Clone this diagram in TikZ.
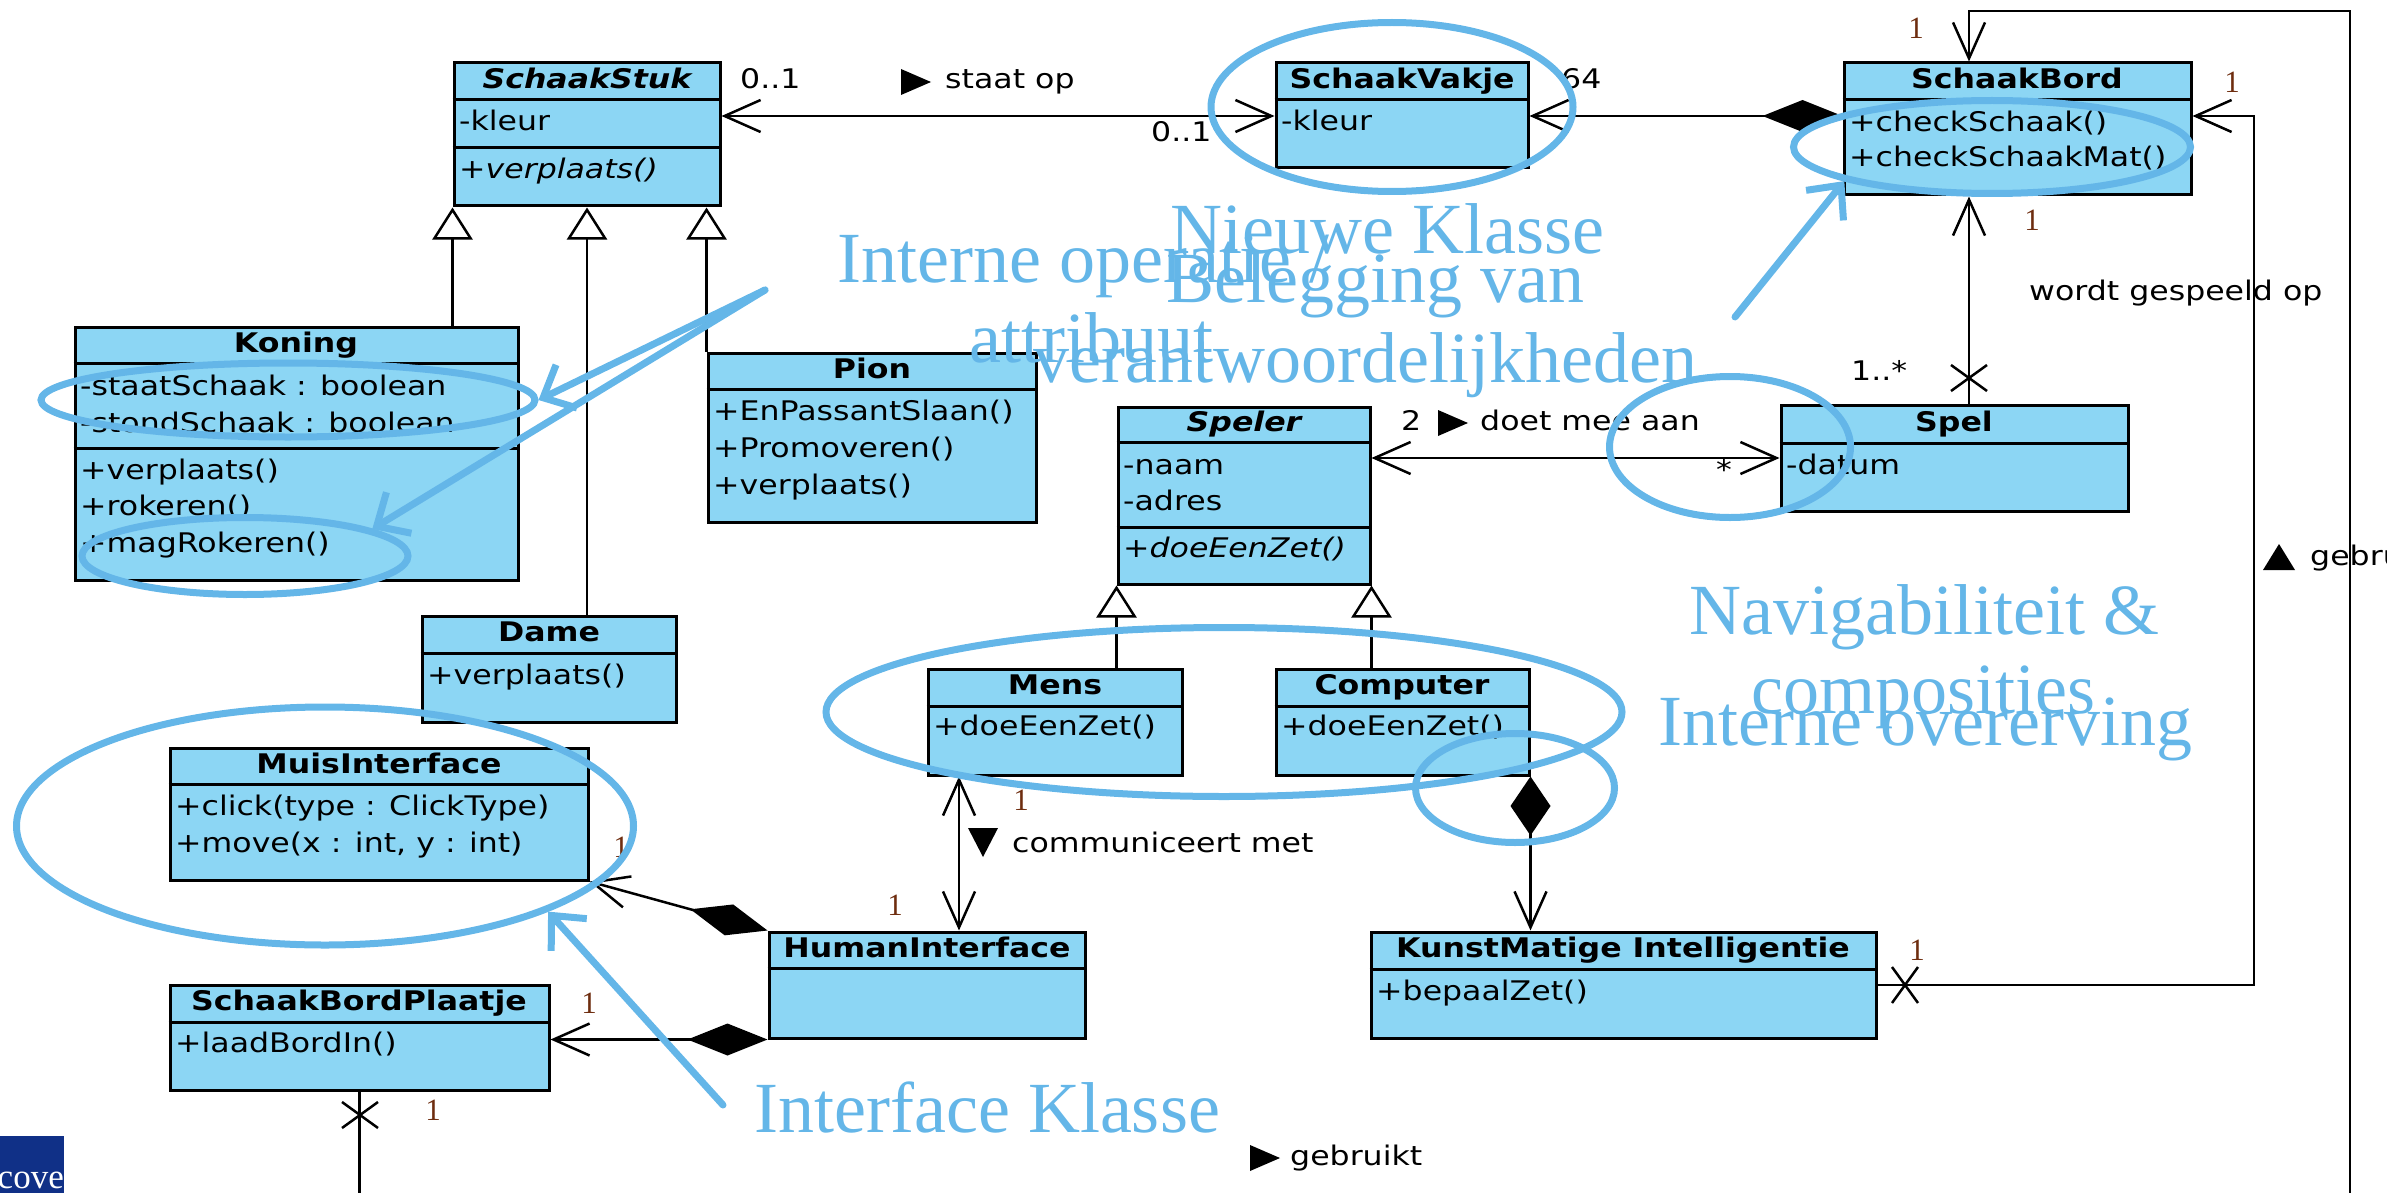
\documentclass[tikz,border=0pt]{standalone}
\usepackage{fontspec}
\setmainfont{Liberation Serif}
\newfontfamily\umlfont[FakeStretch=1.17]{DejaVu Sans}
\usetikzlibrary{arrows.meta}
\usetikzlibrary{fit,shapes.geometric}

\definecolor{klasseblauw}{RGB}{140,214,244}
\definecolor{notitieblauw}{RGB}{100,182,232}
\definecolor{multbruin}{RGB}{110,45,15}
\definecolor{logoblauw}{RGB}{16,48,135}

\begin{document}
\begin{tikzpicture}[x=1pt,y=-1pt,
  klasse/.style={draw,line width=3pt,fill=klasseblauw,inner sep=0pt},
  vak/.style={line width=3pt},
  kop/.style={font=\umlfont\bfseries\fontsize{27}{37}\selectfont,inner sep=0pt,text height=21pt,text depth=7pt},
  lid/.style={font=\umlfont\fontsize{27}{37}\selectfont,anchor=west,inner sep=0pt,text height=21pt,text depth=7pt},
  een/.style={font=\fontsize{31}{32}\selectfont,text=multbruin,inner sep=0pt},
  lijn/.style={line width=2.5pt},
  ovaal/.style={ellipse,draw=notitieblauw,line width=7pt,inner sep=0pt},
  notitie/.style={font=\fontsize{72}{80}\selectfont,text=notitieblauw,anchor=base west,inner sep=0pt},
  notitiepijl/.style={draw=notitieblauw,line width=7pt,line cap=round,-{Straight Barb[length=26pt,width=48pt]}},
  pijlopen/.tip={Straight Barb[length=36pt,width=32pt]},
  erfpijl/.tip={Triangle[length=32pt,width=40pt,fill=white]},
  ruit/.tip={Diamond[length=80pt,width=32pt]},
  ruitklein/.tip={Diamond[length=59pt,width=40pt]},
]
\useasboundingbox (0,0) rectangle (2387,1193);

% Class SchaakStuk
\node[klasse,fit={(454,63) (720,206)}] (schaakstuk) {};
\draw[vak] (schaakstuk.west |- 0,100) -- (schaakstuk.east |- 0,100)
           (schaakstuk.west |- 0,148) -- (schaakstuk.east |- 0,148);
\node[kop] (schaakstuk-kop) at (587,82) {\itshape SchaakStuk};
\node[lid] (schaakstuk-a1) at (459,124) {-kleur};
\node[lid] (schaakstuk-o1) at (459,172) {\itshape +verplaats()};

% Class SchaakVakje
\node[klasse,fit={(1276,63) (1528,168)}] (vakje) {};
\draw[vak] (vakje.west |- 0,100) -- (vakje.east |- 0,100);
\node[kop] (vakje-kop) at (1402,82) {SchaakVakje};
\node[lid] (vakje-a1) at (1281,124) {-kleur};

% Class SchaakBord
\node[klasse,fit={(1844,63) (2191,195)}] (bord) {};
\draw[vak] (bord.west |- 0,100) -- (bord.east |- 0,100);
\node[kop] (bord-kop) at (2017,82) {SchaakBord};
\foreach \t [count=\i] in {+checkSchaak(),+checkSchaakMat()}
  \node[lid] (bord-o\i) at (1849,{125+(\i-1)*35}) {\t};

% Class Koning
\node[klasse,fit={(75,327) (518,580)}] (koning) {};
\draw[vak] (koning.west |- 0,363) -- (koning.east |- 0,363)
           (koning.west |- 0,448) -- (koning.east |- 0,448);
\node[kop] (koning-kop) at (296,345) {Koning};
\foreach \t [count=\i] in {-staatSchaak : boolean,-stondSchaak : boolean}
  \node[lid] (koning-a\i) at (80,{388+(\i-1)*37}) {\t};
\foreach \t [count=\i] in {+verplaats(),+rokeren(),+magRokeren()}
  \node[lid] (koning-o\i) at (80,{472+(\i-1)*36.5}) {\t};

% Class Pion
\node[klasse,fit={(708,353) (1036,522)}] (pion) {};
\draw[vak] (pion.west |- 0,389) -- (pion.east |- 0,389);
\node[kop] (pion-kop) at (872,371) {Pion};
\foreach \t [count=\i] in {+EnPassantSlaan(),+Promoveren(),+verplaats()}
  \node[lid] (pion-o\i) at (713,{413+(\i-1)*37}) {\t};

% Class Dame
\node[klasse,fit={(422,616) (676,722)}] (dame) {};
\draw[vak] (dame.west |- 0,653) -- (dame.east |- 0,653);
\node[kop] (dame-kop) at (549,634) {Dame};
\node[lid] (dame-o1) at (427,677) {+verplaats()};

% Class Speler
\node[klasse,fit={(1118,407) (1370,584)}] (speler) {};
\draw[vak] (speler.west |- 0,442) -- (speler.east |- 0,442)
           (speler.west |- 0,527) -- (speler.east |- 0,527);
\node[kop] (speler-kop) at (1244,424) {\itshape Speler};
\foreach \t [count=\i] in {-naam,-adres}
  \node[lid] (speler-a\i) at (1123,{467+(\i-1)*36}) {\t};
\node[lid] (speler-o1) at (1123,550) {\itshape +doeEenZet()};

% Class Spel
\node[klasse,fit={(1781,405) (2128,511)}] (spel) {};
\draw[vak] (spel.west |- 0,443) -- (spel.east |- 0,443);
\node[kop] (spel-kop) at (1954,424) {Spel};
\node[lid] (spel-a1) at (1786,467) {-datum};

% Class Mens and Computer
\node[klasse,fit={(928,669) (1182,775)}] (mens) {};
\draw[vak] (mens.west |- 0,706) -- (mens.east |- 0,706);
\node[kop] (mens-kop) at (1055,687) {Mens};
\node[lid] (mens-o1) at (933,728) {+doeEenZet()};
\node[klasse,fit={(1276,669) (1529,775)}] (computer) {};
\draw[vak] (computer.west |- 0,706) -- (computer.east |- 0,706);
\node[kop] (computer-kop) at (1402,687) {Computer};
\node[lid] (computer-o1) at (1281,728) {+doeEenZet()};

% Class MuisInterface
\node[klasse,fit={(170,748) (588,880)}] (muis) {};
\draw[vak] (muis.west |- 0,784) -- (muis.east |- 0,784);
\node[kop] (muis-kop) at (379,766) {MuisInterface};
\foreach \t [count=\i] in {+click(type : ClickType),{+move(x : int, y : int)}}
  \node[lid] (muis-o\i) at (175,{808+(\i-1)*37}) {\t};

% Class HumanInterface
\node[klasse,fit={(769,932) (1085,1038)}] (human) {};
\draw[vak] (human.west |- 0,968) -- (human.east |- 0,968);
\node[kop] (human-kop) at (927,950) {HumanInterface};

% Class SchaakBordPlaatje
\node[klasse,fit={(170,985) (549,1090)}] (plaatje) {};
\draw[vak] (plaatje.west |- 0,1022) -- (plaatje.east |- 0,1022);
\node[kop] (plaatje-kop) at (359,1003) {SchaakBordPlaatje};
\node[lid] (plaatje-o1) at (175,1045) {+laadBordIn()};

% Class KunstMatige Intelligentie
\node[klasse,fit={(1371,932) (1876,1038)}] (ki) {};
\draw[vak] (ki.west |- 0,969) -- (ki.east |- 0,969);
\node[kop] (ki-kop) at (1623,950) {KunstMatige Intelligentie};
\node[lid] (ki-o1) at (1376,993) {+bepaalZet()};

% Generalisations
\draw[lijn,-erfpijl] (koning.north -| schaakstuk.south west) -- (schaakstuk.south west);
\draw[lijn,-erfpijl] (dame.north -| schaakstuk.south) -- (schaakstuk.south);
\draw[lijn,-erfpijl] (pion.north west) -- (pion.north west |- schaakstuk.south);
\draw[lijn,-erfpijl] (mens.north -| speler.south west) -- (speler.south west);
\draw[lijn,-erfpijl] (computer.north -| speler.south east) -- (speler.south east);

% staat op
\draw[lijn,pijlopen-pijlopen] (schaakstuk.east |- 0,116) -- (vakje.west |- 0,116);
\node[lid] (staat-m1) at (740,82) {0..1};
\fill (901,69) -- (931,82) -- (901,95) -- cycle;
\node[lid] (staat-op) at (945,82) {staat op};
\node[lid] (staat-m2) at (1151,135) {0..1};

% SchaakBord holds 64 squares
\draw[lijn,ruit-pijlopen] (bord.west |- 0,116) -- (vakje.east |- 0,116);
\node[lid] (vakje-m) at (1561,82) {64};

% wordt gespeeld op
\draw[lijn,pijlopen-] (bord.south -| 1969,0) -- (spel.north -| 1969,0);
\draw[lijn] (1969,378) +(-18,-13) -- +(18,13) +(-18,13) -- +(18,-13);
\node[een] (gespeeld-m1) at (2032,220) {1};
\node[lid] (gespeeld-m2) at (1851,373) {1..*};
\node[lid] (gespeeld) at (2029,293) {wordt gespeeld op};

% doet mee aan
\draw[lijn,pijlopen-pijlopen] (speler.east |- 0,458) -- (spel.west |- 0,458);
\node[lid] (mee-m1) at (1401,423) {2};
\fill (1438,410) -- (1468,423) -- (1438,436) -- cycle;
\node[lid] (mee) at (1480,423) {doet mee aan};
\node[lid] (mee-m2) at (1716,472) {*};

% communiceert met
\draw[lijn,pijlopen-pijlopen] (mens.south -| 959,0) -- (human.north -| 959,0);
\node[een] (comm-m1) at (1021,800) {1};
\node[een] (comm-m2) at (895,905) {1};
\fill (968,828) -- (998,828) -- (983,857) -- cycle;
\node[lid] (comm) at (1012,845) {communiceert met};

% compositions
\draw[lijn,ruitklein-pijlopen] (computer.south east) -- (computer.south east |- ki.north);
\draw[lijn,ruit-pijlopen] (human.north west) -- (muis.south east);
\node[een] (muis-m) at (621,847) {1};
\draw[lijn,ruit-pijlopen] (human.south west) -- (plaatje.east |- human.south west);
\node[een] (plaatje-m) at (589,1003) {1};

% KunstMatige Intelligentie gebruikt SchaakBord
\draw[lijn,-pijlopen] (ki.east |- 0,985) -- (2254,985) -- (2254,116) -- (bord.east |- 0,116);
\draw[lijn] (1905,985) +(-13,-18) -- +(13,18) +(-13,18) -- +(13,-18);
\node[een] (ki-m) at (1917,950) {1};
\node[een] (bord-m1) at (2232,82) {1};
\fill (2263,570) -- (2279,544) -- (2295,570) -- cycle;
\node[lid] (gebruikt1) at (2310,558) {gebruikt};

% SchaakBordPlaatje gebruikt SchaakBord
\draw[lijn,-pijlopen] (plaatje.south) -- (plaatje.south |- 0,1240) -- (2350,1240) -- (2350,11) -- (1969,11) -- (bord.north -| 1969,0);
\draw[lijn] (360,1115) +(-18,-13) -- +(18,13) +(-18,13) -- +(18,-13);
\node[een] (plaatje-m2) at (433,1110) {1};
\node[een] (bord-m2) at (1916,28) {1};
\fill (1250,1145) -- (1280,1158) -- (1250,1171) -- cycle;
\node[lid] (gebruikt2) at (1290,1158) {gebruikt};

% logo corner
\fill[logoblauw] (0,1136) rectangle (64,1193);
\node[anchor=base east,inner sep=0pt,text=white,font=\fontsize{35}{35}\selectfont] (logo) at (64,1188) {cove};

% blue annotations: ovals
\node[ovaal,minimum width=362pt,minimum height=169pt] (ovaal-vakje) at (1392,107) {};
\node[ovaal,minimum width=397pt,minimum height=93pt] (ovaal-bord) at (1992,147) {};
\node[ovaal,minimum width=494pt,minimum height=74pt] (ovaal-koning) at (288,400) {};
\node[ovaal,minimum width=326pt,minimum height=77pt] (ovaal-rokeren) at (245,556) {};
\node[ovaal,minimum width=617pt,minimum height=238pt] (ovaal-muis) at (325,826) {};
\node[ovaal,minimum width=796pt,minimum height=169pt] (ovaal-mens) at (1224,712) {};
\node[ovaal,minimum width=199pt,minimum height=109pt] (ovaal-ruit) at (1515,788) {};
\node[ovaal,minimum width=241pt,minimum height=141pt] (ovaal-ster) at (1730,447) {};

% blue annotations: arrows
\coordinate (io-bron) at (765,290);
\coordinate (nk-bron) at (1735,317);
\coordinate (ik-bron) at (723,1105);
\draw[notitiepijl] (io-bron) -- (ovaal-koning.east);
\draw[notitiepijl] (io-bron) -- (ovaal-rokeren.12);
\draw[notitiepijl] (nk-bron) -- (ovaal-bord.193);
\draw[notitiepijl] (ik-bron) -- (ovaal-muis.339);

% blue annotations: texts
\node[notitie] (io-1) at (837,282) {Interne operatie /};
\node[notitie] (io-2) at (969,362) {attribuut};
\node[notitie] (nk-1) at (1170,253) {Nieuwe Klasse};
\node[notitie] (bv-1) at (1166,302) {Belegging van};
\node[notitie] (bv-2) at (1033,382) {verantwoordelijkheden};
\node[notitie] (nc-1) at (1689,634) {Navigabiliteit \&};
\node[notitie] (nc-2) at (1751,713) {composities};
\node[notitie] (io-3) at (1658,745) {Interne overerving};
\node[notitie] (ik-1) at (754,1132) {Interface Klasse};
\end{tikzpicture}
\end{document}
